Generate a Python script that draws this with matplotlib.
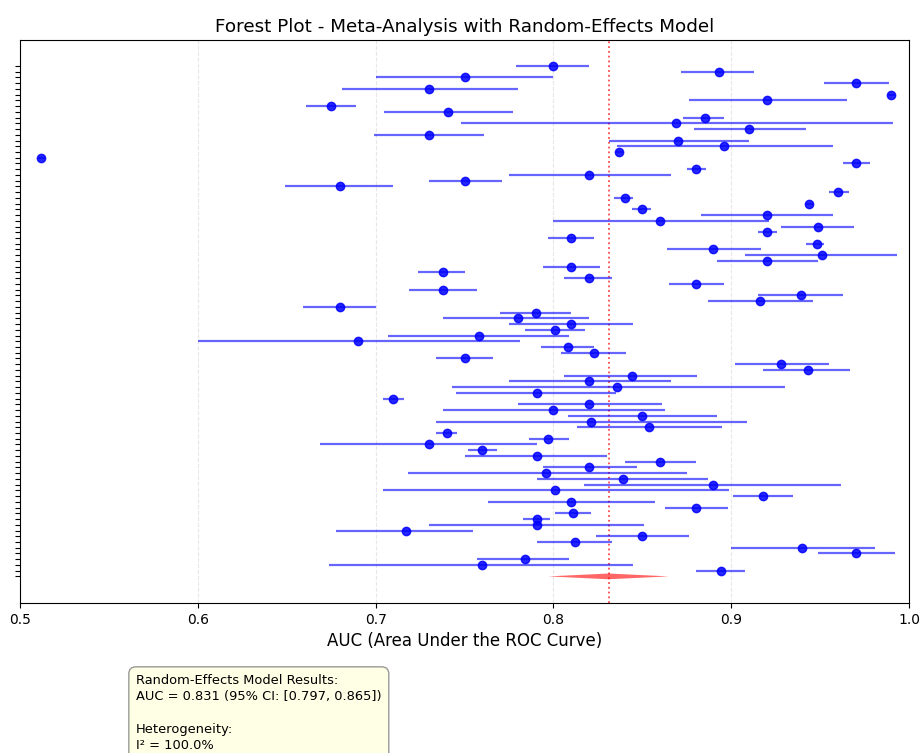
import matplotlib
matplotlib.use("Agg")
import matplotlib.pyplot as plt
import numpy as np

# Study-level AUC estimates (top to bottom) with 95% CI bounds
auc = [0.800, 0.893, 0.750, 0.970, 0.730, 0.990, 0.920, 0.675, 0.741, 0.885,
       0.869, 0.910, 0.730, 0.870, 0.896, 0.837, 0.512, 0.970, 0.880, 0.820,
       0.750, 0.680, 0.960, 0.840, 0.944, 0.850, 0.920, 0.860, 0.949, 0.920,
       0.810, 0.948, 0.890, 0.951, 0.920, 0.810, 0.738, 0.820, 0.880, 0.738,
       0.939, 0.916, 0.680, 0.790, 0.780, 0.810, 0.801, 0.758, 0.690, 0.808,
       0.823, 0.750, 0.928, 0.943, 0.844, 0.820, 0.836, 0.791, 0.710, 0.820,
       0.800, 0.850, 0.821, 0.854, 0.740, 0.797, 0.730, 0.760, 0.791, 0.860,
       0.820, 0.796, 0.839, 0.890, 0.801, 0.918, 0.810, 0.880, 0.811, 0.791,
       0.791, 0.717, 0.850, 0.812, 0.940, 0.970, 0.784, 0.760, 0.894]
ci_low = [0.779, 0.872, 0.700, 0.952, 0.681, 0.988, 0.876, 0.661, 0.705, 0.873,
          0.748, 0.879, 0.699, 0.831, 0.836, 0.835, 0.510, 0.963, 0.875, 0.775,
          0.730, 0.649, 0.955, 0.834, 0.942, 0.844, 0.883, 0.800, 0.928, 0.915,
          0.797, 0.942, 0.864, 0.908, 0.892, 0.794, 0.724, 0.806, 0.865, 0.719,
          0.915, 0.887, 0.659, 0.770, 0.738, 0.775, 0.784, 0.707, 0.600, 0.793,
          0.804, 0.734, 0.902, 0.918, 0.806, 0.775, 0.743, 0.745, 0.704, 0.780,
          0.738, 0.808, 0.734, 0.813, 0.734, 0.786, 0.669, 0.752, 0.750, 0.840,
          0.794, 0.718, 0.791, 0.817, 0.704, 0.901, 0.763, 0.863, 0.801, 0.783,
          0.730, 0.678, 0.824, 0.791, 0.900, 0.949, 0.757, 0.674, 0.880]
ci_high = [0.820, 0.913, 0.800, 0.989, 0.780, 0.992, 0.965, 0.689, 0.777, 0.896,
           0.991, 0.942, 0.761, 0.910, 0.957, 0.839, 0.514, 0.978, 0.886, 0.866,
           0.771, 0.710, 0.966, 0.845, 0.946, 0.855, 0.957, 0.921, 0.969, 0.926,
           0.823, 0.952, 0.917, 0.993, 0.949, 0.826, 0.750, 0.833, 0.896, 0.757,
           0.963, 0.946, 0.700, 0.810, 0.820, 0.845, 0.818, 0.809, 0.781, 0.823,
           0.841, 0.766, 0.955, 0.967, 0.881, 0.866, 0.930, 0.835, 0.716, 0.861,
           0.863, 0.892, 0.909, 0.895, 0.746, 0.809, 0.791, 0.768, 0.830, 0.880,
           0.847, 0.875, 0.887, 0.962, 0.899, 0.935, 0.857, 0.898, 0.821, 0.798,
           0.851, 0.755, 0.876, 0.833, 0.981, 0.992, 0.809, 0.845, 0.908]

pooled_auc = 0.831
pooled_low = 0.797
pooled_high = 0.865
i_squared = 100.0

title = "Forest Plot - Meta-Analysis with Random-Effects Model"
xlabel = "AUC (Area Under the ROC Curve)"

n = len(auc)
ypos = np.arange(n, 0, -1)  # top study at n, pooled at 0

fig = plt.figure(figsize=(9.23, 7.53), dpi=100)
ax = fig.add_axes([20 / 923, 1 - 603 / 753, (909 - 20) / 923, (603 - 40) / 753])

ax.hlines(ypos, ci_low, ci_high, color="blue", alpha=0.6, linewidth=1.6, zorder=2)
ax.plot(auc, ypos, "o", color="blue", alpha=0.85, markersize=6, zorder=3)

# pooled diamond
h = 0.5
ax.fill([pooled_low, pooled_auc, pooled_high, pooled_auc], [0, h, 0, -h],
        color="red", alpha=0.6, linewidth=0, zorder=3)
ax.axvline(pooled_auc, color="red", linestyle=":", alpha=0.7, linewidth=1.3, zorder=1)

ax.set_xlim(0.5, 1.0)
ax.set_ylim(-4.64, n + 4.53)
ax.set_yticks(np.arange(0, n + 1))
ax.set_yticklabels([""] * (n + 1))
ax.set_xticks([0.5, 0.6, 0.7, 0.8, 0.9, 1.0])
ax.set_xticklabels(["0.5", "0.6", "0.7", "0.8", "0.9", "1.0"])
ax.tick_params(axis="x", labelsize=10)
ax.grid(axis="x", linestyle="--", alpha=0.3)
ax.set_axisbelow(True)
ax.set_title(title, fontsize=13.2)
ax.set_xlabel(xlabel, fontsize=12)

txt = ("Random-Effects Model Results:\n"
       f"AUC = {pooled_auc:.3f} (95% CI: [{pooled_low:.3f}, {pooled_high:.3f}])\n\n"
       "Heterogeneity:\n"
       f"I\u00b2 = {i_squared:.1f}%\n"
       " \n ")
fig.text(136 / 923, 1 - 674 / 753, txt, ha="left", va="top", fontsize=9.4,
         linespacing=1.32,
         bbox=dict(boxstyle="round,pad=0.55", facecolor="lightyellow",
                   edgecolor="gray", alpha=0.8))

fig.savefig("out.png", dpi=100)
